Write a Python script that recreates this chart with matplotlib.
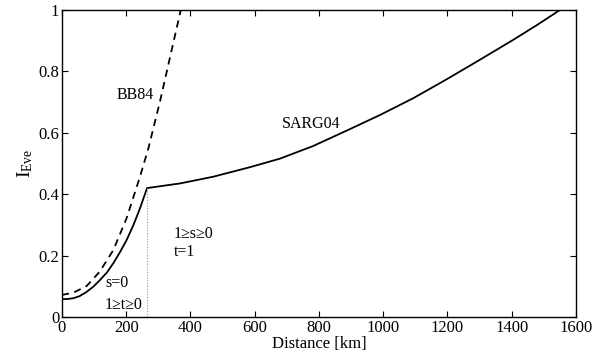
import matplotlib
matplotlib.use("Agg")
import matplotlib.pyplot as plt

plt.rcParams['font.family'] = ['Liberation Serif', 'DejaVu Serif']
plt.rcParams['mathtext.fontset'] = 'custom'
plt.rcParams['mathtext.rm'] = 'Liberation Serif'
plt.rcParams['mathtext.it'] = 'Liberation Serif:italic'

# BB84 (dashed)
bb84_x = [0, 35, 77, 118, 160, 201, 243, 269, 305, 338, 370]
bb84_y = [0.072, 0.079, 0.101, 0.148, 0.218, 0.321, 0.457, 0.549, 0.701, 0.853, 1.0]

# SARG04 (solid): s=0 region then t=1 region
sarg_x = [0, 20, 35, 55, 77, 98, 118, 140, 160, 180, 201, 222, 243, 255, 265,
          367, 471, 585, 679, 782, 886, 990, 1094, 1197, 1301, 1405, 1480, 1550]
sarg_y = [0.058, 0.059, 0.061, 0.068, 0.082, 0.099, 0.12, 0.145, 0.175, 0.21, 0.25, 0.298, 0.354, 0.39, 0.42,
          0.435, 0.457, 0.488, 0.516, 0.557, 0.607, 0.658, 0.713, 0.774, 0.838, 0.903, 0.952, 1.0]

kink_x = [265, 265]
kink_y = [0, 0.42]

xticks = [0, 200, 400, 600, 800, 1000, 1200, 1400, 1600]
yticks = [0, 0.2, 0.4, 0.6, 0.8, 1]
ytick_labels = ['0', '0.2', '0.4', '0.6', '0.8', '1']

fig = plt.figure(figsize=(6.13, 3.55), dpi=100)
ax = fig.add_axes([0.101, 0.107, 0.8386, 0.8648])

ax.plot(sarg_x, sarg_y, color='black', lw=1.3)
ax.plot(bb84_x, bb84_y, color='black', lw=1.3, linestyle=(0, (4, 3)))
ax.plot(kink_x, kink_y, color='#999999', lw=0.8, linestyle=(0, (1, 1.5)))

ax.set_xlim(0, 1600)
ax.set_ylim(0, 1)
ax.set_xticks(xticks)
ax.set_yticks(yticks)
ax.set_yticklabels(ytick_labels)
ax.tick_params(direction='in', top=True, right=True, labelsize=12, length=4, width=0.8, pad=2)
for s in ax.spines.values():
    s.set_linewidth(1.0)

ax.set_xlabel('Distance [km]', fontsize=12, labelpad=0)
ax.set_ylabel(r'$\mathrm{I}_{\mathrm{Eve}}$', fontsize=14, labelpad=2)

fs = 11.5
ax.text(227, 0.723, 'BB84', fontsize=fs, ha='center', va='center')
ax.text(775, 0.63, 'SARG04', fontsize=fs, ha='center', va='center')
ax.text(347, 0.272, '1≥s≥0', fontsize=fs, ha='left', va='center')
ax.text(347, 0.213, 't=1', fontsize=fs, ha='left', va='center')
ax.text(134, 0.11, 's=0', fontsize=fs, ha='left', va='center')
ax.text(134, 0.039, '1≥t≥0', fontsize=fs, ha='left', va='center')

fig.savefig('out.png', dpi=100)
